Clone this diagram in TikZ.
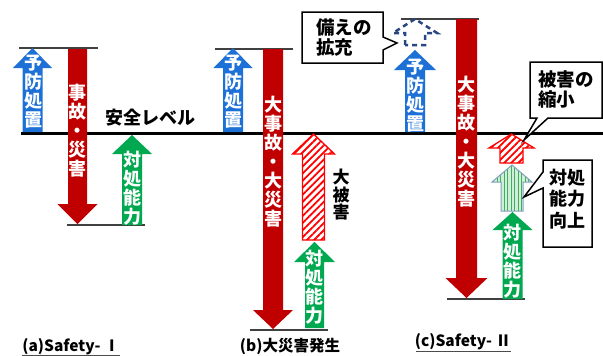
\documentclass[tikz,border=0pt]{standalone}
\usepackage{fontspec}
\setmainfont{Noto Sans CJK JP}
\usetikzlibrary{patterns.meta}
\definecolor{pblue}{RGB}{28,112,214}
\definecolor{pred}{RGB}{192,0,0}
\definecolor{pgreen}{RGB}{0,168,80}
\definecolor{pnavy}{RGB}{40,70,130}
\definecolor{plgreen}{RGB}{205,240,215}
\definecolor{pstripe}{RGB}{70,170,100}
\definecolor{poutline}{RGB}{130,160,190}
\newcommand{\myUp}[7]{\path[#1] (#2-#3,#7) -- (#2-#3,#6) -- (#2-#4,#6) -- (#2,#5) -- (#2+#4,#6) -- (#2+#3,#6) -- (#2+#3,#7) -- cycle;}
\newcommand{\myDown}[7]{\path[#1] (#2-#3,#5) -- (#2+#3,#5) -- (#2+#3,#6) -- (#2+#4,#6) -- (#2,#7) -- (#2-#4,#6) -- (#2-#3,#6) -- cycle;}
\tikzset{
  vt/.style={font=\bfseries\fontsize{18}{19}\selectfont, align=center, inner sep=0pt},
  lvl/.style={draw=black, line width=3pt},
  gline/.style={draw=black!75, line width=1.2pt},
  uline/.style={draw=black!70, line width=1pt},
  bluearr/.style={fill=pblue},
  redarr/.style={fill=pred},
  greenarr/.style={fill=pgreen},
  hatcharr/.style={draw=red, line width=1.3pt, preaction={fill=white}, pattern={Lines[angle=45,distance=5pt,line width=1.8pt]}, pattern color=red},
  stripearr/.style={draw=poutline, line width=1pt, preaction={fill=plgreen}, pattern={Lines[angle=90,distance=3.5pt,line width=1pt]}, pattern color=pstripe},
  dasharr/.style={draw=pnavy, line width=2.5pt, dash pattern=on 5pt off 4pt},
  callout/.style={draw=black, line width=1.5pt, fill=white, line join=miter},
  ctext/.style={font=\bfseries\fontsize{18.5}{20}\selectfont, inner sep=0pt},
  captxt/.style={font=\bfseries\fontsize{15.5}{17}\selectfont, inner sep=0pt}
}
\begin{document}
\begin{tikzpicture}[x=1pt,y=-1pt]
\useasboundingbox (0,0) rectangle (603,356);
% level line
\draw[lvl] (21,133) -- (603,133);
% gray reference lines
\draw[gline] (19,48) -- (98,48);
\draw[gline] (67,225) -- (145,225);
\draw[gline] (215,49) -- (293,49);
\draw[gline] (250,330) -- (328,330);
\draw[gline] (401,19) -- (479,19);
\draw[gline] (447,299) -- (525,299);
% panel a
\myUp{bluearr}{32.5}{10}{19.5}{48}{68}{132}
\myDown{redarr}{77.5}{9.5}{20}{49}{204}{224}
\myUp{greenarr}{132}{10}{20}{135}{154}{225}
\node[vt, text=white] (aprev) at (33,92) {予\\防\\処\\置};
\node[vt, text=white] (aacc) at (77.5,131) {事\\故\\・\\災\\害};
\node[vt, text=white] (aresp) at (132,188) {対\\処\\能\\力};
\node[font=\bfseries\fontsize{18}{20}\selectfont, inner sep=0pt] (level) at (150,118) {安全レベル};
\node[captxt] (capa) at (71,347) {(a)Safety- Ⅰ};
\draw[uline] (22,355.5) -- (120,355.5);
% panel b
\myUp{bluearr}{233}{10}{19.5}{48}{68}{132}
\myDown{redarr}{273}{10}{20}{49}{310}{329}
\myUp{hatcharr}{313.5}{11}{21}{134}{154}{240}
\myUp{greenarr}{314.5}{9.5}{20.5}{242}{262}{328}
\node[vt, text=white] (bprev) at (233,92) {予\\防\\処\\置};
\node[vt, text=white] (bacc) at (273,162) {大\\事\\故\\・\\大\\災\\害};
\node[vt, text=black, font=\bfseries\fontsize{17}{17.5}\selectfont] (bdmg) at (341,195) {大\\被\\害};
\node[vt, text=white] (bresp) at (314.5,287) {対\\処\\能\\力};
\node[captxt] (capb) at (290,346) {(b)大災害発生};
% callout 1
\path[callout] (302,12) -- (383,12) -- (383,37) -- (397,43) -- (383,50) -- (383,63) -- (302,63) -- cycle;
\node[ctext, align=left] (prep) at (344,38) {備えの\\拡充};
% panel c
\path[dasharr] (405,45) -- (405,33) -- (393,33) -- (415,19) -- (437,33) -- (425,33) -- (425,45) -- cycle;
\myUp{bluearr}{415}{10}{21}{50}{70}{132}
\myDown{redarr}{466.5}{10.5}{21}{19}{278}{298}
\myUp{hatcharr}{511.5}{11.5}{22.5}{134}{148}{163}
\myUp{stripearr}{512}{11}{20}{165}{182}{211}
\myUp{greenarr}{512.5}{10}{20}{212}{230}{299}
\node[vt, text=white] (cprev) at (415,96) {予\\防\\処\\置};
\node[vt, text=white] (cacc) at (466.5,141.5) {大\\事\\故\\・\\大\\災\\害};
\node[vt, text=white] (cresp) at (512.5,261) {対\\処\\能\\力};
\node[captxt] (capc) at (463,342) {(c)Safety- Ⅱ};
\draw[uline] (416,351.5) -- (511,351.5);
% callout 2
\path[callout] (530,62) -- (602,62) -- (602,118) -- (548,118) -- (524,140) -- (537,118) -- (530,118) -- cycle;
\node[ctext, align=left] (reduce) at (566,89) {被害の\\縮小};
% callout 3
\path[callout] (543,160) -- (592,160) -- (592,247) -- (543,247) -- (543,188) -- (524,197) -- (543,172) -- cycle;
\node[ctext, align=center, font=\bfseries\fontsize{18}{21.5}\selectfont] (improve) at (567.5,199) {対処\\能力\\向上};
\end{tikzpicture}
\end{document}
